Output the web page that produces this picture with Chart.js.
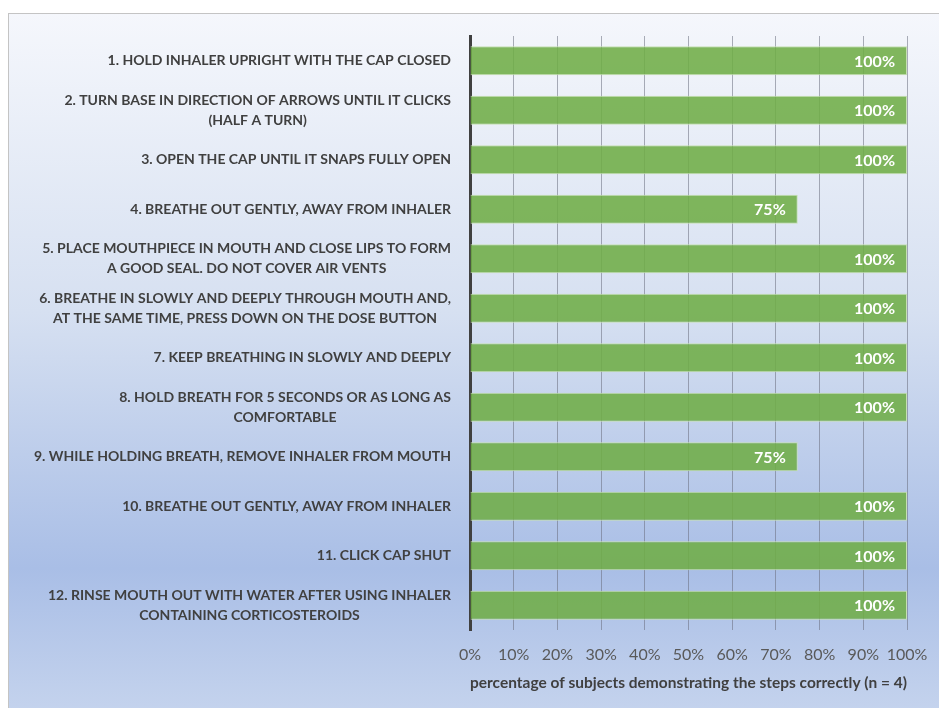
<!DOCTYPE html>
<html>
<head>
<meta charset="utf-8">
<script src="https://cdn.jsdelivr.net/npm/chart.js@4"></script>
<style>
  html, body { margin: 0; padding: 0; background: #fff; }
  #wrap { width: 939px; height: 708px; position: relative; }
</style>
</head>
<body>
<div id="wrap"><canvas id="stepsChart"></canvas></div>
<script>
const steps = [
  ["1. HOLD INHALER UPRIGHT WITH THE CAP CLOSED"],
  ["2. TURN BASE IN DIRECTION OF ARROWS UNTIL IT CLICKS", "(HALF A TURN)"],
  ["3. OPEN THE CAP UNTIL IT SNAPS FULLY OPEN"],
  ["4. BREATHE OUT GENTLY, AWAY FROM INHALER"],
  ["5. PLACE MOUTHPIECE IN MOUTH AND CLOSE LIPS TO FORM", "A GOOD SEAL. DO NOT COVER AIR VENTS"],
  ["6. BREATHE IN SLOWLY AND DEEPLY THROUGH MOUTH AND,", "AT THE SAME TIME, PRESS DOWN ON THE DOSE BUTTON"],
  ["7. KEEP BREATHING IN SLOWLY AND DEEPLY"],
  ["8. HOLD BREATH FOR 5 SECONDS OR AS LONG AS", "COMFORTABLE"],
  ["9. WHILE HOLDING BREATH, REMOVE INHALER FROM MOUTH"],
  ["10. BREATHE OUT GENTLY, AWAY FROM INHALER"],
  ["11. CLICK CAP SHUT"],
  ["12. RINSE MOUTH OUT WITH WATER AFTER USING INHALER", "CONTAINING CORTICOSTEROIDS"]
];
const pctCorrect = [100, 100, 100, 75, 100, 100, 100, 100, 75, 100, 100, 100];
const xTicks = [0, 10, 20, 30, 40, 50, 60, 70, 80, 90, 100];
const xTitle = "percentage of subjects demonstrating the steps correctly (n = 4)";

const FONT = "Lato, 'Open Sans', sans-serif";

// chart frame with Office-style blue gradient
const frameBg = {
  id: "frameBg",
  beforeDraw(chart) {
    const ctx = chart.ctx;
    ctx.save();
    ctx.fillStyle = "#ffffff";
    ctx.fillRect(0, 0, chart.width, chart.height);
    const g = ctx.createLinearGradient(0, 13, 0, 725);
    g.addColorStop(0, "#f5f7fc");
    g.addColorStop(0.42, "#d6e0f1");
    g.addColorStop(0.78, "#a9bee6");
    g.addColorStop(1, "#c7d5ee");
    ctx.fillStyle = g;
    ctx.fillRect(8, 13, chart.width, chart.height);
    ctx.strokeStyle = "#c4c4c4";
    ctx.lineWidth = 1;
    ctx.strokeRect(8.5, 13.5, chart.width + 10, chart.height + 10);
    ctx.restore();
  }
};

// category labels: lines centred on each other, block right-aligned to the axis
const stepLabels = {
  id: "stepLabels",
  afterDraw(chart) {
    const ctx = chart.ctx;
    const y = chart.scales.y;
    const right = chart.chartArea.left - 19;
    ctx.save();
    ctx.font = "bold 14px " + FONT;
    ctx.fillStyle = "#404040";
    ctx.textAlign = "center";
    ctx.textBaseline = "middle";
    const lh = 20;
    steps.forEach((lines, i) => {
      const w = Math.max(...lines.map(l => ctx.measureText(l).width));
      const cx = right - w / 2;
      const cy = y.getPixelForValue(i);
      const y0 = cy - (lines.length - 1) * lh / 2;
      lines.forEach((l, j) => ctx.fillText(l, cx, y0 + j * lh));
    });
    ctx.restore();
  }
};

// value labels inside bar ends
const barValues = {
  id: "barValues",
  afterDatasetsDraw(chart) {
    const ctx = chart.ctx;
    const meta = chart.getDatasetMeta(0);
    ctx.save();
    ctx.font = "bold 16px " + FONT;
    ctx.fillStyle = "#ffffff";
    ctx.textAlign = "right";
    ctx.textBaseline = "middle";
    meta.data.forEach((bar, i) => {
      ctx.fillText(pctCorrect[i] + "%", bar.x - 12, bar.y + 1);
    });
    ctx.restore();
  }
};

new Chart(document.getElementById("stepsChart"), {
  type: "bar",
  data: {
    labels: steps,
    datasets: [{
      data: pctCorrect,
      backgroundColor: "rgba(112,173,71,0.88)",
      borderColor: "#c6e0b4",
      borderWidth: 1,
      borderSkipped: "left",
      categoryPercentage: 1,
      barPercentage: 0.59
    }]
  },
  options: {
    indexAxis: "y",
    responsive: true,
    maintainAspectRatio: false,
    animation: false,
    layout: { padding: { left: 8, top: 36, right: 32, bottom: 0 } },
    plugins: {
      legend: { display: false },
      tooltip: { enabled: false }
    },
    scales: {
      x: {
        min: 0,
        max: 100,
        afterBuildTicks: s => { s.ticks = xTicks.map(v => ({ value: v })); },
        afterFit: s => { s.height = 78; s.paddingLeft = 0; s.paddingRight = 0; },
        grid: { color: "rgba(105,110,125,0.55)", lineWidth: 1, drawTicks: false },
        border: { display: false },
        ticks: {
          padding: 15,
          maxRotation: 0,
          minRotation: 0,
          autoSkip: false,
          color: "#595959",
          font: { family: FONT, size: 16 },
          callback: v => v + "%"
        },
        title: {
          display: true,
          text: xTitle,
          color: "#404040",
          font: { family: FONT, size: 15.6, weight: "bold" },
          padding: { top: 0, bottom: 16 }
        }
      },
      y: {
        afterFit: s => { s.width = 462; },
        grid: { display: false },
        border: { display: true, color: "#404040", width: 3 },
        ticks: { display: false }
      }
    }
  },
  plugins: [frameBg, stepLabels, barValues]
});
</script>
</body>
</html>
